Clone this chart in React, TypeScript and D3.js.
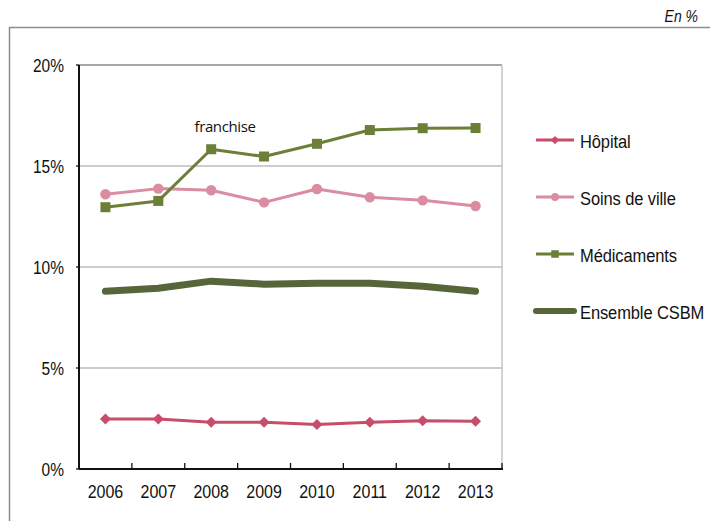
import React from "react";
import * as d3 from "d3";

const years = ["2006", "2007", "2008", "2009", "2010", "2011", "2012", "2013"];
const hopital = [2.47, 2.47, 2.31, 2.31, 2.2, 2.31, 2.39, 2.37];
const soinsDeVille = [13.6, 13.88, 13.8, 13.2, 13.86, 13.45, 13.3, 13.02];
const medicaments = [12.96, 13.27, 15.83, 15.47, 16.1, 16.78, 16.87, 16.88];
const ensembleCSBM = [8.8, 8.95, 9.3, 9.15, 9.2, 9.2, 9.05, 8.8];
const yTicks = [0, 5, 10, 15, 20];

const W = 710;
const H = 521;
const plot = { left: 79, right: 502, top: 65, bottom: 469 };

const x = d3.scaleBand<string>().domain(years).range([plot.left, plot.right]);
const y = d3.scaleLinear().domain([0, 20]).range([plot.bottom, plot.top]);
const cx = (yr: string) => (x(yr) ?? 0) + x.bandwidth() / 2;

const lineGen = d3
  .line<number>()
  .x((_, i) => cx(years[i]))
  .y((v) => y(v));

const FONT = "'Liberation Sans', Arial, sans-serif";

type Marker = "diamond" | "circle" | "square" | "none";

const series: { name: string; values: number[]; color: string; width: number; marker: Marker }[] = [
  { name: "Hôpital", values: hopital, color: "#c84d6a", width: 3, marker: "diamond" },
  { name: "Soins de ville", values: soinsDeVille, color: "#da8ca0", width: 3, marker: "circle" },
  { name: "Médicaments", values: medicaments, color: "#6b7f37", width: 3, marker: "square" },
  { name: "Ensemble CSBM", values: ensembleCSBM, color: "#56653a", width: 7, marker: "none" },
];

// Text drawn with a slight vertical stretch (tall, narrow glyphs)
function TallText(props: {
  x: number;
  y: number;
  size: number;
  stretch?: number;
  anchor?: "start" | "middle" | "end";
  italic?: boolean;
  spacing?: number;
  children: React.ReactNode;
}) {
  const { x: tx, y: ty, size, stretch = 1.2, anchor = "start", italic, spacing = 0, children } = props;
  return (
    <text
      transform={`translate(${tx},${ty}) scale(1,${stretch})`}
      fontSize={size}
      textAnchor={anchor}
      fontStyle={italic ? "italic" : "normal"}
      letterSpacing={spacing}
      fill="#111"
    >
      {children}
    </text>
  );
}

function drawMarker(kind: Marker, px: number, py: number, color: string, key: string, size = 1) {
  if (kind === "diamond") {
    const r = 5.5 * size;
    return (
      <path
        key={key}
        d={`M${px},${py - r}L${px + r},${py}L${px},${py + r}L${px - r},${py}Z`}
        fill={color}
      />
    );
  }
  if (kind === "circle") {
    return <circle key={key} cx={px} cy={py} r={5.2 * size} fill={color} />;
  }
  if (kind === "square") {
    const s = 10 * size;
    return <rect key={key} x={px - s / 2} y={py - s / 2} width={s} height={s} fill={color} />;
  }
  return null;
}

export default function App() {
  const legendY = [140, 197, 254, 311];
  return (
    <svg
      width={W}
      height={H}
      style={{ position: "absolute", left: 0, top: 0, background: "#fff" }}
      fontFamily={FONT}
    >
      {/* frame */}
      <line x1={9} x2={W} y1={27.5} y2={27.5} stroke="#8c8c8c" strokeWidth={1.5} />
      <line x1={9.5} x2={9.5} y1={27} y2={H} stroke="#8c8c8c" strokeWidth={1.5} />
      <TallText x={698} y={22} size={14} stretch={1.2} anchor="end" italic>
        En %
      </TallText>

      {/* gridlines */}
      {yTicks.slice(1).map((t) => (
        <line
          key={t}
          x1={plot.left}
          x2={plot.right}
          y1={y(t)}
          y2={y(t)}
          stroke={t === 20 ? "#8a8a8a" : "#bdbdc2"}
          strokeWidth={1.3}
        />
      ))}
      <line x1={plot.right} x2={plot.right} y1={plot.top} y2={plot.bottom} stroke="#bdbdc2" strokeWidth={1.3} />

      {/* y axis */}
      <line x1={plot.left} x2={plot.left} y1={plot.top} y2={plot.bottom} stroke="#111" strokeWidth={2} />
      {yTicks.map((t) => (
        <g key={t}>
          <line x1={plot.left - 3} x2={plot.left} y1={y(t)} y2={y(t)} stroke="#111" strokeWidth={1.3} />
          <TallText x={64} y={y(t) + 6.5} size={15.5} stretch={1.17} anchor="end">
            {t}%
          </TallText>
        </g>
      ))}

      {/* x axis */}
      <line x1={plot.left} x2={plot.right + 1} y1={plot.bottom} y2={plot.bottom} stroke="#111" strokeWidth={2} />
      {years.map((yr, i) => (
        <g key={yr}>
          {i > 0 && (
            <line
              x1={x(yr)}
              x2={x(yr)}
              y1={plot.bottom}
              y2={plot.bottom - 6}
              stroke="#111"
              strokeWidth={1.3}
            />
          )}
          <TallText x={cx(yr)} y={498} size={16} stretch={1.2} anchor="middle">
            {yr}
          </TallText>
        </g>
      ))}
      <line x1={plot.right} x2={plot.right} y1={plot.bottom} y2={plot.bottom - 6} stroke="#111" strokeWidth={1.3} />

      {/* series */}
      {series.map((s) => (
        <g key={s.name}>
          <path
            d={lineGen(s.values) ?? ""}
            fill="none"
            stroke={s.color}
            strokeWidth={s.width}
            strokeLinejoin="round"
            strokeLinecap={s.marker === "none" ? "round" : "butt"}
          />
          {s.values.map((v, i) => drawMarker(s.marker, cx(years[i]), y(v), s.color, `${s.name}-${i}`))}
        </g>
      ))}

      <text
        x={225}
        y={132}
        fontSize={15}
        textAnchor="middle"
        fill="#111"
        fontFamily="'Open Sans', 'Noto Sans', sans-serif"
        letterSpacing={-0.4}
      >
        franchise
      </text>

      {/* legend */}
      {series.map((s, i) => (
        <g key={s.name}>
          <line
            x1={536}
            x2={574}
            y1={legendY[i]}
            y2={legendY[i]}
            stroke={s.color}
            strokeWidth={s.marker === "none" ? 6 : 3}
            strokeLinecap={s.marker === "none" ? "round" : "butt"}
          />
          {drawMarker(s.marker, 555, legendY[i], s.color, `leg-${i}`, 0.75)}
          <TallText x={580} y={legendY[i] + 7.5} size={16.5} stretch={1.08} spacing={-0.1}>
            {s.name}
          </TallText>
        </g>
      ))}
    </svg>
  );
}
